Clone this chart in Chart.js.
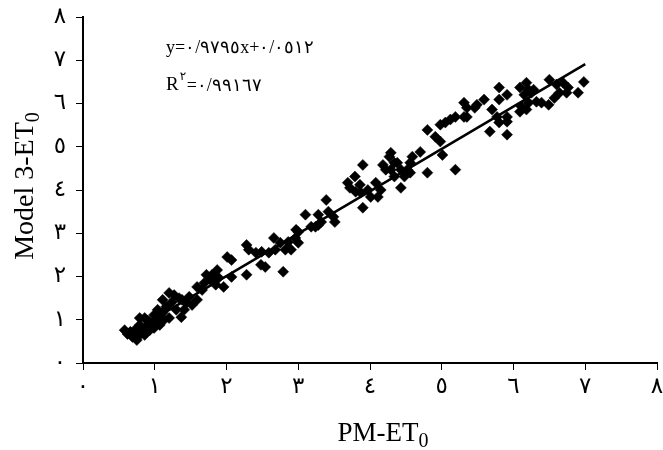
<!DOCTYPE html>
<html>
<head>
<meta charset="utf-8">
<script src="https://cdn.jsdelivr.net/npm/chart.js@4/dist/chart.umd.min.js"></script>
<style>
  html, body { margin: 0; padding: 0; background: #fff; }
  #wrap { width: 663px; height: 450px; }
</style>
</head>
<body>
<div id="wrap"><canvas id="myChart"></canvas></div>
<script>
// PM-ET0 (x) against Model 3-ET0 (y)
const pmEt0 = [
  0.58, 0.62, 0.65, 0.69, 0.72, 0.76, 0.79, 0.79, 0.83, 0.86,
  0.89, 0.93, 0.95, 0.99, 1.04, 1.07, 1.11, 1.11, 1.13, 1.16,
  1.20, 1.24, 1.30, 1.34, 1.37, 1.38, 1.44, 1.48, 1.52, 1.59,
  1.59, 1.66, 1.72, 1.78, 1.85, 1.87, 1.89, 1.96, 2.01, 2.07,
  2.07, 2.28, 2.28, 2.31, 2.41, 2.48, 2.49, 2.54, 2.59, 2.66,
  2.68, 2.75, 2.79, 2.82, 2.86, 2.90, 2.96, 3.00, 3.00, 3.10,
  3.18, 3.28, 3.28, 3.32, 3.39, 3.42, 3.49, 3.51, 3.24, 2.97,
  3.69, 3.72, 3.79, 3.80, 3.86, 3.87, 3.90, 3.90, 3.97, 4.01,
  4.08, 4.11, 4.15, 4.18, 4.22, 4.27, 4.29, 4.34, 4.29, 4.38,
  4.43, 4.52, 4.34, 4.48, 4.56, 4.80, 5.19, 4.43, 4.56, 4.59,
  4.70, 4.80, 4.98, 5.05, 5.12, 5.19, 5.31, 4.91, 4.98, 5.01,
  5.31, 5.49, 5.59, 5.35, 5.35, 5.46, 5.70, 5.77, 5.80, 5.91,
  5.91, 5.67, 5.91, 5.80, 5.80, 5.91, 6.09, 6.18, 6.21, 6.15,
  6.28, 6.32, 6.11, 6.09, 6.18, 6.21, 6.39, 6.49, 6.50, 6.60,
  6.69, 6.76, 6.64, 6.57, 6.74, 6.90, 6.98, 6.25,
  0.75, 0.86, 0.93, 0.99, 1.04, 1.20, 1.27, 1.41, 1.69, 1.80,
  0.66, 0.71, 0.81, 0.90, 1.01
];
const model3Et0 = [
  0.76, 0.67, 0.69, 0.60, 0.76, 0.60, 0.88, 1.04, 0.76, 1.04,
  0.83, 0.95, 0.88, 1.11, 1.04, 0.88, 1.16, 1.46, 1.00, 1.30,
  1.62, 1.41, 1.23, 1.50, 1.06, 1.46, 1.39, 1.53, 1.34, 1.46,
  1.76, 1.69, 2.04, 1.92, 1.81, 2.15, 1.97, 1.76, 2.45, 2.38,
  1.99, 2.73, 2.04, 2.62, 2.55, 2.27, 2.57, 2.22, 2.55, 2.89,
  2.62, 2.78, 2.11, 2.62, 2.80, 2.62, 2.89, 3.03, 2.78, 3.43,
  3.15, 3.19, 3.43, 3.26, 3.77, 3.50, 3.38, 3.26, 3.15, 3.08,
  4.17, 4.05, 4.31, 3.96, 4.12, 3.94, 4.58, 3.59, 4.00, 3.84,
  4.17, 3.84, 4.00, 4.58, 4.47, 4.77, 4.47, 4.63, 4.86, 4.63,
  4.47, 4.47, 4.31, 4.31, 4.40, 4.40, 4.47, 4.05, 4.63, 4.77,
  4.88, 5.39, 5.51, 5.56, 5.63, 5.69, 5.69, 5.23, 5.12, 4.81,
  6.02, 5.97, 6.09, 5.90, 5.69, 5.90, 5.86, 5.69, 5.56, 5.69,
  5.58, 5.35, 5.28, 6.37, 6.09, 6.20, 6.37, 6.48, 6.32, 6.20,
  6.32, 6.04, 5.93, 5.81, 5.86, 6.02, 6.02, 5.97, 6.55, 6.44,
  6.48, 6.37, 6.25, 6.13, 6.25, 6.25, 6.50, 6.25,
  0.53, 0.65, 0.76, 0.81, 1.23, 1.04, 1.57, 1.23, 1.85, 2.04,
  0.72, 0.64, 0.70, 0.98, 0.93
];

// linear trend line y = 0.9795x + 0.0512, ends of the drawn segment
const trendX = [0.6, 7.0];
const trendY = [0.64, 6.91];

const tickLabels = ['٠', '١', '٢', '٣', '٤', '٥', '٦', '٧', '٨'];
const eqLine = 'y=٠/٩٧٩٥x+٠/٠٥١٢';
const r2Value = '=٠/٩٩١٦٧';

const points = pmEt0.map((x, i) => ({ x: x, y: model3Et0[i] }));
const trend = trendX.map((x, i) => ({ x: x, y: trendY[i] }));

// axis titles with subscript 0 and the equation box
const textPlugin = {
  id: 'textPlugin',
  afterDraw(chart) {
    const ctx = chart.ctx;
    ctx.save();
    ctx.fillStyle = '#000';
    ctx.textBaseline = 'alphabetic';
    ctx.textAlign = 'left';

    const big = '27px "Liberation Serif"';
    const sub = '20px "Liberation Serif"';

    // x title
    ctx.font = big;
    const main = 'PM-ET';
    const wMain = ctx.measureText(main).width;
    ctx.font = sub;
    const wSub = ctx.measureText('0').width;
    const x0 = 383 - (wMain + wSub) / 2;
    ctx.font = big;
    ctx.fillText(main, x0, 441);
    ctx.font = sub;
    ctx.fillText('0', x0 + wMain, 447);

    // y title, rotated
    ctx.save();
    ctx.translate(33, 186);
    ctx.rotate(-Math.PI / 2);
    ctx.font = '28px "Liberation Serif"';
    const yMain = 'Model 3-ET';
    const wy = ctx.measureText(yMain).width;
    const sx = -(wy + wSub) / 2;
    ctx.fillText(yMain, sx, 0);
    ctx.font = sub;
    ctx.fillText('0', sx + wy, 6);
    ctx.restore();

    // equation
    ctx.font = '18px "Liberation Serif"';
    ctx.fillText(eqLine, 166, 53);
    ctx.font = '19px "Liberation Serif"';
    ctx.fillText('R', 166, 90);
    const wR = ctx.measureText('R').width;
    ctx.font = '12px "DejaVu Sans"';
    ctx.fillText('٢', 166 + wR + 1, 80);
    ctx.font = '18px "Liberation Serif"';
    ctx.fillText(r2Value, 166 + wR + 8, 91);
    ctx.restore();
  }
};

const tickFont = { family: '"DejaVu Sans", "Noto Sans"', size: 23 };

new Chart(document.getElementById('myChart').getContext('2d'), {
  type: 'scatter',
  data: {
    datasets: [
      {
        label: 'Model 3-ET0',
        data: points,
        pointStyle: 'rectRot',
        pointRadius: 5.5,
        pointBackgroundColor: '#000',
        pointBorderColor: '#000',
        pointBorderWidth: 0.5
      },
      {
        type: 'line',
        label: 'Linear',
        data: trend,
        borderColor: '#000',
        borderWidth: 2.5,
        pointRadius: 0,
        fill: false
      }
    ]
  },
  options: {
    responsive: true,
    maintainAspectRatio: false,
    animation: false,
    layout: { padding: { top: 17, right: 2, left: 0, bottom: 0 } },
    plugins: {
      legend: { display: false },
      tooltip: { enabled: false }
    },
    scales: {
      x: {
        type: 'linear',
        min: 0,
        max: 8,
        border: { color: '#000', width: 2 },
        grid: { drawOnChartArea: false, drawTicks: true, tickLength: 7, color: '#000', lineWidth: 1 },
        ticks: {
          stepSize: 1,
          color: '#000',
          font: tickFont,
          padding: 3,
          maxRotation: 0,
          callback: v => tickLabels[v]
        },
        afterFit: scale => {
          scale.height = 87;
          scale.paddingLeft = 0;
          scale.paddingRight = 0;
        }
      },
      y: {
        type: 'linear',
        min: 0,
        max: 8,
        border: { color: '#000', width: 2 },
        grid: { drawOnChartArea: false, drawTicks: true, tickLength: 7, color: '#000', lineWidth: 1 },
        ticks: {
          stepSize: 1,
          color: '#000',
          font: tickFont,
          padding: 10,
          callback: v => tickLabels[v]
        },
        afterFit: scale => {
          scale.width = 83;
          scale.paddingTop = 0;
          scale.paddingBottom = 0;
        }
      }
    }
  },
  plugins: [textPlugin]
});
</script>
</body>
</html>
